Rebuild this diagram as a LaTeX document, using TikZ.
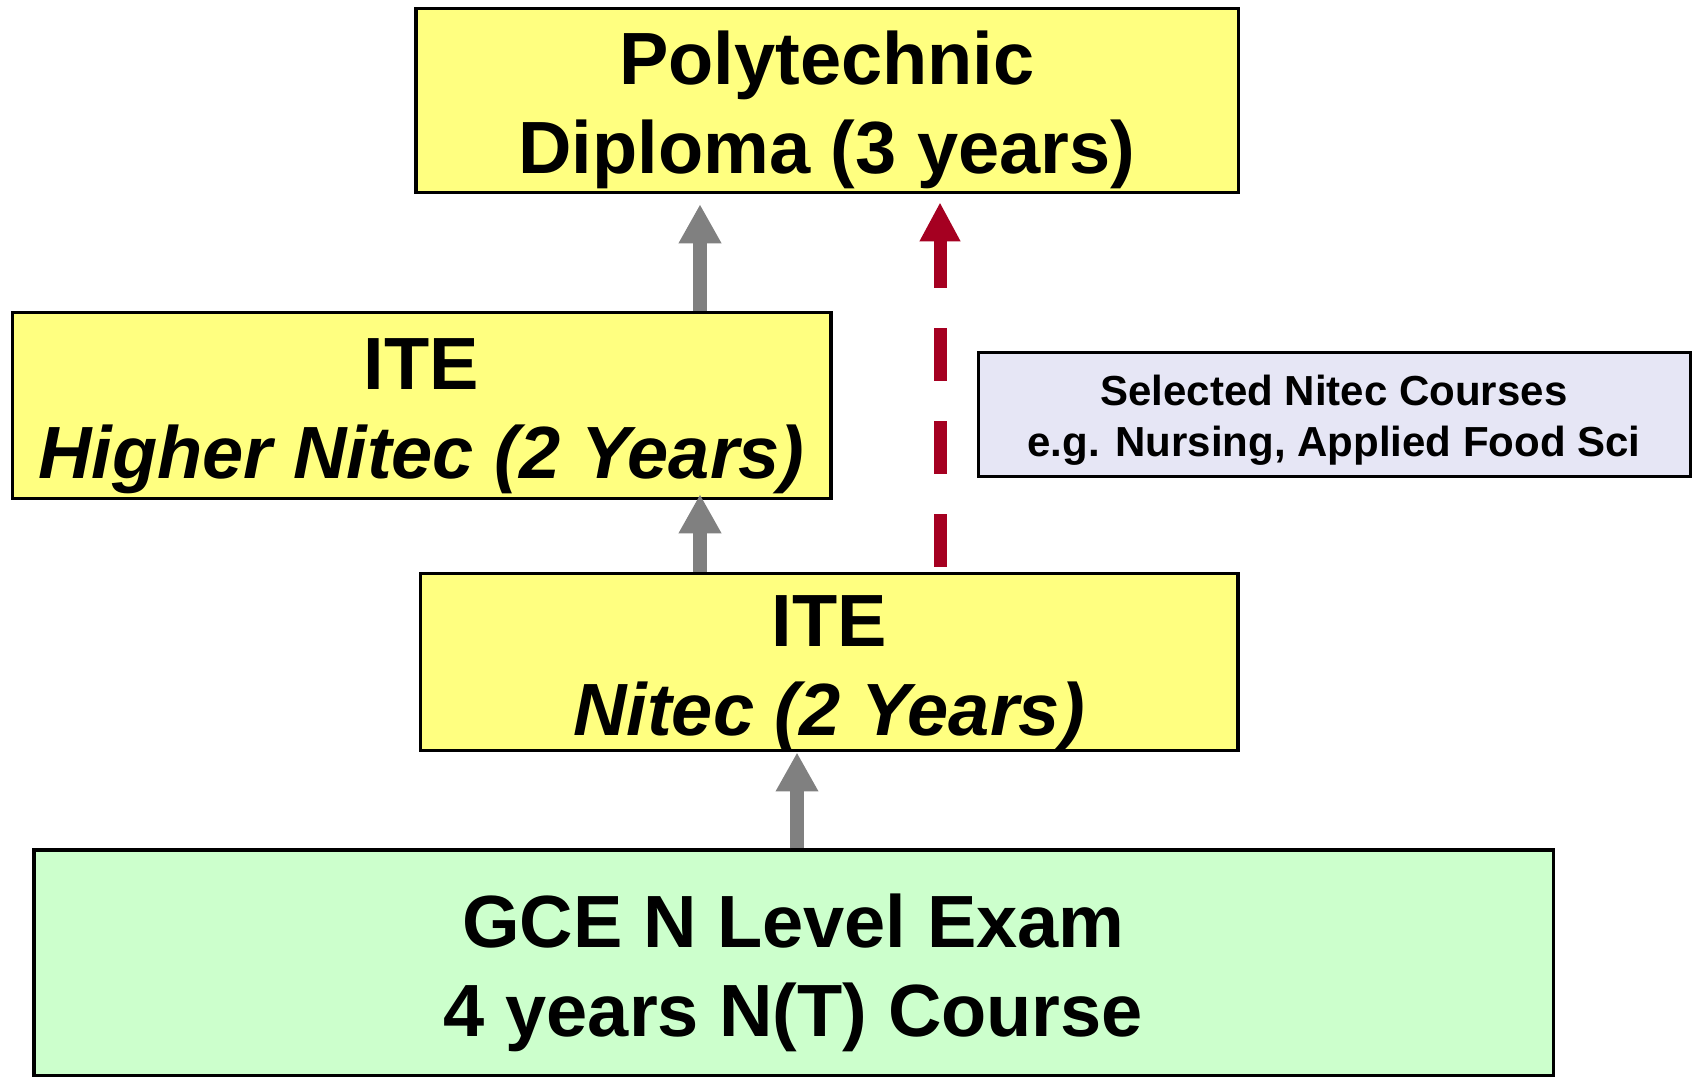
\documentclass[tikz,border=0pt]{standalone}
\usepackage{fontspec}
\setmainfont{Liberation Sans}
\usetikzlibrary{arrows.meta}
\definecolor{boxyellow}{HTML}{FFFF80}
\definecolor{boxgreen}{HTML}{CCFFCC}
\definecolor{boxlilac}{HTML}{E6E6F5}
\definecolor{uparrowgrey}{HTML}{808080}
\definecolor{uparrowred}{HTML}{A50021}
\newcommand\stagestrut{\rule{0pt}{36.5pt}}
\newcommand\notestrut{\rule{0pt}{20.7pt}}
\begin{document}
\begin{tikzpicture}[x=0.5pt,y=-0.5pt,
  stagebox/.style={draw=black,line width=1.75pt,fill=boxyellow,align=center,inner sep=0pt,
    font=\fontsize{37}{44.5}\selectfont\bfseries},
  notebox/.style={draw=black,line width=1.5pt,fill=boxlilac,align=center,inner sep=0pt,
    font=\fontsize{21}{25.5}\selectfont\bfseries},
  uparrow/.style={uparrowgrey,line width=7pt,-{Triangle[length=19.5pt,width=20pt]}},
  bridgearrow/.style={uparrowred,line width=6.5pt,dash pattern=on 26.5pt off 20pt,
    -{Triangle[length=19.5pt,width=19pt]}}]
  \useasboundingbox (0,0) rectangle (1695,1076);
  \node [stagebox,minimum width=411.25pt,minimum height=92pt] (poly) at (827,100.5)
    {\stagestrut Polytechnic\\Diploma (3 years)};
  \node [stagebox,minimum width=409.25pt,minimum height=93pt] (hnitec) at (421.5,405.5)
    {\stagestrut ITE\\{\itshape Higher Nitec (2 Years)}};
  \node [stagebox,minimum width=408.75pt,minimum height=85pt] (nitec) at (829,662)
    {\stagestrut ITE\\{\itshape Nitec (2 Years)}};
  \node [stagebox,fill=boxgreen,minimum width=759.75pt,minimum height=113pt] (gce) at (793.5,963)
    {\stagestrut GCE N Level Exam\\4 years N(T) Course};
  \node [notebox,minimum width=356pt,minimum height=62pt] (selected) at (1334,414.5)
    {\notestrut Selected Nitec Courses\\e.g. Nursing, Applied Food Sci};
  \coordinate (leftlane) at (700,0);
  \coordinate (examlane) at (797,0);
  \coordinate (bridgelane) at (940,0);
  \draw [uparrow,shorten >=5pt] (leftlane |- hnitec.north) -- (leftlane |- poly.south);
  \draw [uparrow,shorten >=-3pt] (leftlane |- nitec.north) -- (leftlane |- hnitec.south);
  \draw [uparrow] (examlane |- gce.north) -- (examlane |- nitec.south);
  \draw [bridgearrow,shorten <=2.5pt,shorten >=4pt] (bridgelane |- nitec.north) -- (bridgelane |- poly.south);
\end{tikzpicture}
\end{document}
